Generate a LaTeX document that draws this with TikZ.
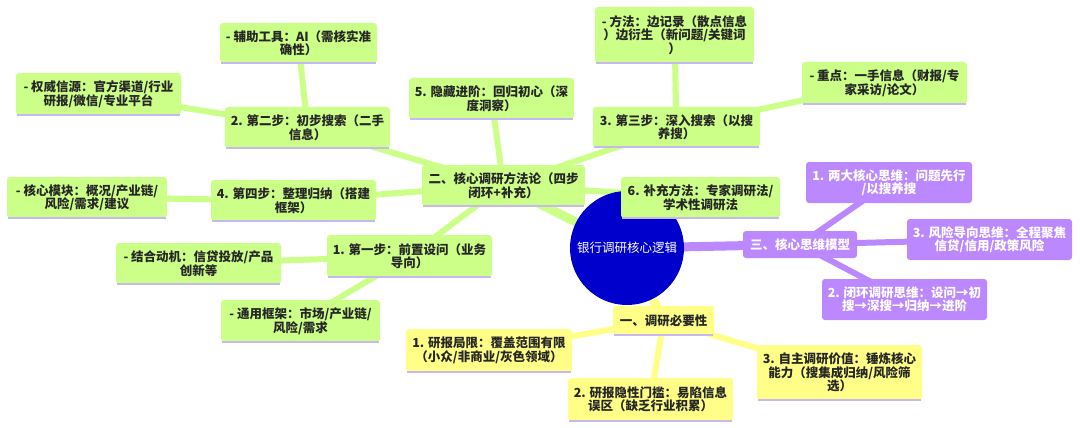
\documentclass[tikz,border=0pt]{standalone}
\usepackage{fontspec}
\setmainfont{Noto Sans CJK SC}
\usetikzlibrary{backgrounds}
\definecolor{gfill}{HTML}{CCFF88}
\definecolor{yfill}{HTML}{FFFF88}
\definecolor{pfill}{HTML}{BB88FF}
\definecolor{rootblue}{HTML}{0000CC}
\definecolor{lav}{HTML}{C8B8F0}
\definecolor{txt}{HTML}{262626}
\begin{document}
\begin{tikzpicture}[x=1pt,y=-1pt,
  box/.style={rounded corners=3pt, inner sep=0pt, align=center,
    font=\fontsize{12.5}{13.5}\selectfont\bfseries, text=txt},
  gbox/.style={box, fill=gfill},
  ybox/.style={box, fill=yfill},
  pbox/.style={box, fill=pfill, text=white},
  sz/.style 2 args={minimum width=#1pt, minimum height=#2pt},
  glink/.style={draw=gfill, line width=6pt},
  ylink/.style={draw=yfill, line width=6pt},
  plink/.style={draw=pfill, line width=6pt},
  mainlink/.style={line width=9pt},
  rim/.style={draw=lav, line width=1.6pt}
]
\useasboundingbox (0,0) rectangle (1080,428);

% root
\node[circle, fill=rootblue, minimum size=114pt, inner sep=0pt, text=white,
  font=\fontsize{12.5}{13.5}\selectfont] (root) at (627,248) {银行调研核心逻辑};

% green branch
\node[gbox, sz={163}{41}] (two) at (503.5,185.5) {二、核心调研方法论（四步\\闭环+补充）};
\node[gbox, sz={165}{41}] (s2) at (307.5,127.5) {2. 第二步：初步搜索（二手\\信息）};
\node[gbox, sz={157}{40}] (aux) at (298.5,43) {- 辅助工具：AI（需核实准\\确性）};
\node[gbox, sz={165}{42}] (auth) at (98.5,94) {- 权威信源：官方渠道/行业\\研报/微信/专业平台};
\node[gbox, sz={165}{41}] (s4) at (293.5,200.5) {4. 第四步：整理归纳（搭建\\框架）};
\node[gbox, sz={160}{41}] (core) at (87,197.5) {- 核心模块：概况/产业链/\\风险/需求/建议};
\node[gbox, sz={165}{42}] (s1) at (409.5,256) {1. 第一步：前置设问（业务\\导向）};
\node[gbox, sz={165}{41}] (motive) at (198.5,263.5) {- 结合动机：信贷投放/产品\\创新等};
\node[gbox, sz={159}{42}] (frame) at (300.5,321) {- 通用框架：市场/产业链/\\风险/需求};
\node[gbox, sz={165}{41}] (s5) at (491.5,98.5) {5. 隐藏进阶：回归初心（深\\度洞察）};
\node[gbox, sz={167}{40}] (s3) at (676.5,127) {3. 第三步：深入搜索（以搜\\养搜）};
\node[gbox, sz={159}{56}] (method) at (674.5,35) {- 方法：边记录（散点信息\\）边衍生（新问题/关键词\\）};
\node[gbox, sz={165}{42}] (key) at (884.5,83) {- 重点：一手信息（财报/专\\家采访/论文）};
\node[gbox, sz={159}{41}] (s6) at (700.5,197.5) {6. 补充方法：专家调研法/\\学术性调研法};

% purple branch
\node[pbox, sz={114}{27}] (three) at (800,244.5) {三、核心思维模型};
\node[pbox, sz={166}{41}] (p1) at (889,182.5) {1. 两大核心思维：问题先行\\/以搜养搜};
\node[pbox, sz={165}{41}] (p3) at (989.5,239.5) {3. 风险导向思维：全程聚焦\\信贷/信用/政策风险};
\node[pbox, sz={165}{41}] (p2) at (904.5,299.5) {2. 闭环调研思维：设问→初\\搜→深搜→归纳→进阶};

% yellow branch
\node[ybox, sz={101}{29}] (one) at (663.5,320.5) {一、调研必要性};
\node[ybox, sz={166}{43}] (y1) at (489,350.5) {1. 研报局限：覆盖范围有限\\（小众/非商业/灰色领域）};
\node[ybox, sz={165}{43}] (y2) at (650.5,399.5) {2. 研报隐性门槛：易陷信息\\误区（缺乏行业积累）};
\node[ybox, sz={165}{55}] (y3) at (839.5,372.5) {3. 自主调研价值：锤炼核心\\能力（搜集成归纳/风险筛\\选）};

% bottom rims
\foreach \n in {two,s2,aux,auth,s4,core,s1,motive,frame,s5,s3,method,key,s6,one,y1,y2,y3}
  \draw[rim] ([xshift=1.5pt]\n.south west) -- ([xshift=-1.5pt]\n.south east);

\begin{scope}[on background layer]
  \fill[white] (0,0) rectangle (1080,428);
  \draw[glink, mainlink] (root.center) -- (two.center);
  \draw[plink, mainlink] (root.center) -- (three.center);
  \draw[ylink, mainlink] (root.center) -- (one.center);
  \draw[glink] (two.center) -- (s2.center);
  \draw[glink] (two.center) -- (s3.center);
  \draw[glink] (two.center) -- (s4.center);
  \draw[glink] (two.center) -- (s1.center);
  \draw[glink] (two.center) -- (s5.center);
  \draw[glink] (two.center) -- (s6.center);
  \draw[glink] (s2.center) -- (aux.center);
  \draw[glink] (s2.center) -- (auth.center);
  \draw[glink] (s4.center) -- (core.center);
  \draw[glink] (s1.center) -- (motive.center);
  \draw[glink] (s1.center) -- (frame.center);
  \draw[glink] (s3.center) -- (method.center);
  \draw[glink] (s3.center) -- (key.center);
  \draw[plink] (three.center) -- (p1.center);
  \draw[plink] (three.center) -- (p3.center);
  \draw[plink] (three.center) -- (p2.center);
  \draw[ylink] (one.center) -- (y1.center);
  \draw[ylink] (one.center) -- (y2.center);
  \draw[ylink] (one.center) -- (y3.center);
\end{scope}
\end{tikzpicture}
\end{document}
